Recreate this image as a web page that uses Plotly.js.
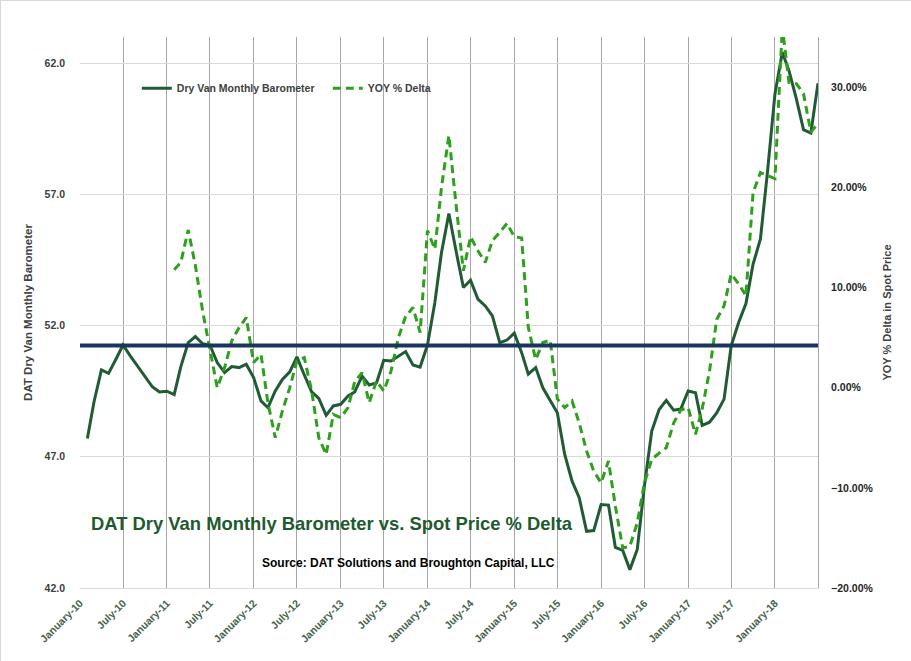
<!DOCTYPE html>
<html>
<head>
<meta charset="utf-8">
<script src="https://cdn.plot.ly/plotly-3.0.1.min.js"></script>
<style>
  body { margin: 0; background: #ffffff; }
  #chart { width: 911px; height: 661px; box-sizing: border-box; border: 1px solid #d9d9d9; }
</style>
</head>
<body>
<div id="chart"></div>
<script>
// monthly barometer, Feb 2010 .. Jul 2018
const barometer = [
  47.70, 49.10, 50.31, 50.18, 50.72, 51.26, 50.84, 50.46, 50.08, 49.67, 49.47,
  49.50, 49.37, 50.44, 51.35, 51.58, 51.31, 51.26, 50.59, 50.21, 50.44, 50.40, 50.53,
  50.02, 49.13, 48.87, 49.51, 49.95, 50.24, 50.81, 50.12, 49.48, 49.23, 48.58, 48.94,
  49.00, 49.32, 49.47, 50.08, 49.74, 49.82, 50.68, 50.65, 50.84, 51.01, 50.50, 50.42,
  51.26, 52.88, 54.79, 56.27, 54.85, 53.45, 53.73, 53.01, 52.75, 52.37, 51.35, 51.45,
  51.71, 50.97, 50.15, 50.40, 49.63, 49.13, 48.68, 47.09, 46.07, 45.44, 44.16, 44.19,
  45.18, 45.16, 43.55, 43.43, 42.70, 43.47, 45.88, 47.98, 48.80, 49.15, 48.78, 48.82,
  49.51, 49.44, 48.20, 48.32, 48.67, 49.20, 51.23, 52.11, 52.84, 54.34, 55.30, 57.90,
  60.83, 62.42, 61.72, 60.64, 59.47, 59.34, 61.24
];

// YOY % delta in spot price, starts Feb 2011 (first 12 months have no value)
const yoyPct = [
  null, null, null, null, null, null, null, null, null, null, null, null,
  11.77, 12.5, 15.74, 12.2, 7.6, 3.8, 0.0, 2.0, 4.67, 6.0, 7.0,
  2.5, 3.33, -1.5, -5.0, -2.33, 0.0, 2.67, 3.0, -0.33, -5.0, -6.67, -2.67,
  -3.0, -2.0, 0.6, 1.5, -1.5, 0.67, -0.33, 1.67, 5.0, 7.1, 8.0, 5.5,
  15.67, 13.83, 20.0, 25.17, 18.3, 11.67, 15.07, 13.67, 12.5, 14.67, 15.5, 16.4,
  15.07, 14.94, 6.0, 2.8, 4.5, 4.74, -1.13, -2.0, -1.33, -3.53, -6.33, -8.33,
  -9.5, -7.33, -11.83, -16.0, -15.83, -13.5, -9.53, -7.16, -6.53, -6.0, -3.53, -2.23,
  -2.0, -4.66, -2.13, 1.67, 6.8, 8.17, 11.34, 10.37, 9.17, 19.47, 21.47, 21.17,
  20.87, 36.0, 30.47, 30.34, 29.34, 25.5, 26.37
];

const avgLevel = 51.24;

const tickDates = [
  '2010-01-01', '2010-07-01', '2011-01-01', '2011-07-01', '2012-01-01', '2012-07-01',
  '2013-01-01', '2013-07-01', '2014-01-01', '2014-07-01', '2015-01-01', '2015-07-01',
  '2016-01-01', '2016-07-01', '2017-01-01', '2017-07-01', '2018-01-01', '2018-07-01'
];
const tickLabels = [
  'January-10', 'July-10', 'January-11', 'July-11', 'January-12', 'July-12',
  'January-13', 'July-13', 'January-14', 'July-14', 'January-15', 'July-15',
  'January-16', 'July-16', 'January-17', 'July-17', 'January-18', ''
];

// one date per data point, first of each month from Feb 2010
let months = [];
for (let i = 0; i < barometer.length; i++) {
  let d = new Date(Date.UTC(2010, 1 + i, 1));
  months.push(d.toISOString().slice(0, 10));
}

let yoy = yoyPct.map(v => v === null ? null : v / 100);

const fnt = 'Liberation Sans, Arial, sans-serif';

var baroLine = {
  x: months,
  y: barometer,
  name: 'Dry Van Monthly Barometer',
  type: 'scatter',
  mode: 'lines',
  line: {color: '#215b35', width: 3},
  hoverinfo: 'skip'
};

var yoyLine = {
  x: months,
  y: yoy,
  name: 'YOY % Delta',
  type: 'scatter',
  mode: 'lines',
  yaxis: 'y2',
  connectgaps: false,
  line: {color: '#2ea01e', width: 3, dash: '8px,5px'},
  hoverinfo: 'skip'
};

var layout = {
  width: 911,
  height: 661,
  margin: {l: 79, r: 94, t: 36, b: 74},
  paper_bgcolor: '#ffffff',
  plot_bgcolor: '#ffffff',
  showlegend: true,
  legend: {
    orientation: 'h',
    x: 0.077, y: 0.907,
    xanchor: 'left', yanchor: 'middle',
    bgcolor: 'rgba(0,0,0,0)',
    font: {family: fnt, size: 10.5, color: '#404040', weight: 'bold'},
    entrywidth: 146,
    tracegroupgap: 0
  },
  xaxis: {
    type: 'date',
    range: ['2010-01-01', '2018-07-01'],
    tickmode: 'array',
    tickvals: tickDates,
    ticktext: tickLabels,
    tickangle: -45,
    ticks: '',
    ticklabelstandoff: 4,
    showgrid: true,
    gridcolor: '#a6a6a6',
    gridwidth: 1,
    showline: true,
    linecolor: '#d9d9d9',
    zeroline: false,
    tickfont: {family: fnt, size: 10.5, color: '#45624b', weight: 'bold'}
  },
  yaxis: {
    range: [42, 63],
    tickmode: 'array',
    tickvals: [42, 47, 52, 57, 62],
    tickformat: '.1f',
    ticks: '',
    ticklabelstandoff: 14,
    showgrid: true,
    gridcolor: '#d9d9d9',
    zeroline: false,
    tickfont: {family: fnt, size: 10.5, color: '#404040', weight: 'bold'},
    title: {
      text: 'DAT Dry Van Monthly Barometer',
      standoff: 9,
      font: {family: fnt, size: 11.5, color: '#404040', weight: 'bold'}
    }
  },
  yaxis2: {
    overlaying: 'y',
    side: 'right',
    range: [-0.20, 0.35],
    tickmode: 'array',
    tickvals: [-0.2, -0.1, 0, 0.1, 0.2, 0.3],
    tickformat: '.2%',
    ticks: '',
    ticklabelstandoff: 10,
    showgrid: false,
    zeroline: false,
    showline: true,
    linecolor: '#a6a6a6',
    tickfont: {family: fnt, size: 10.5, color: '#262626', weight: 'bold'},
    title: {
      text: 'YOY % Delta in Spot Price',
      standoff: 10,
      font: {family: fnt, size: 11, color: '#404040', weight: 'bold'}
    }
  },
  shapes: [{
    type: 'line',
    xref: 'paper', x0: 0, x1: 1,
    yref: 'y', y0: avgLevel, y1: avgLevel,
    line: {color: '#1b365d', width: 4},
    layer: 'above'
  }],
  annotations: [
    {
      text: 'DAT Dry Van Monthly Barometer vs. Spot Price % Delta',
      xref: 'paper', yref: 'paper',
      x: 0.341, y: 0.117,
      xanchor: 'center', yanchor: 'middle',
      showarrow: false,
      font: {family: fnt, size: 18.4, color: '#1e5a30', weight: 'bold'}
    },
    {
      text: 'Source: DAT Solutions and Broughton Capital, LLC',
      xref: 'paper', yref: 'paper',
      x: 0.445, y: 0.046,
      xanchor: 'center', yanchor: 'middle',
      showarrow: false,
      font: {family: fnt, size: 12, color: '#000000', weight: 'bold'}
    }
  ]
};

Plotly.newPlot('chart', [baroLine, yoyLine], layout, {displayModeBar: false, staticPlot: true});
</script>
</body>
</html>
